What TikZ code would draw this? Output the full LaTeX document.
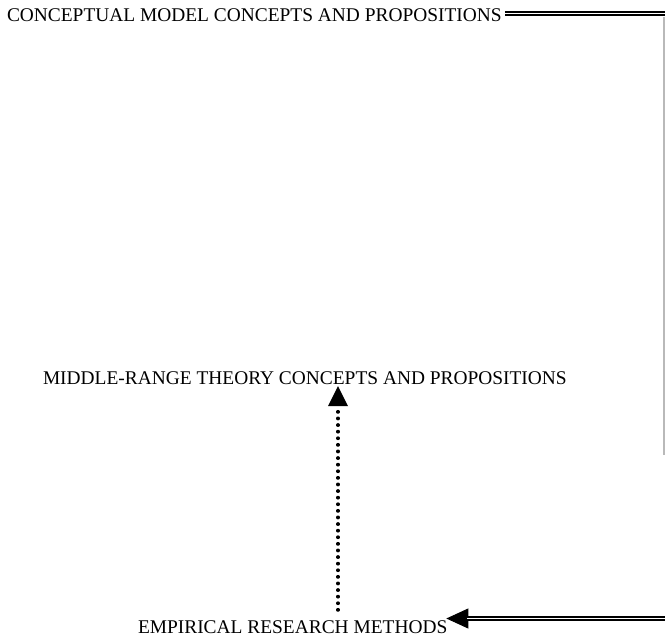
\documentclass[tikz,border=0pt]{standalone}
\usepackage{fontspec}
\setmainfont{Liberation Serif}
\usetikzlibrary{arrows.meta}
\begin{document}
\begin{tikzpicture}[x=1pt,y=1pt,
  label/.style={inner sep=0pt, outer sep=0pt, anchor=base west,
    font=\fontsize{19.4}{23}\selectfont},
  dblline/.style={draw=black, line width=1.3pt, double=white, double distance=1.6pt},
  dotline/.style={line width=3.2pt, line cap=round, dash pattern=on 0.6pt off 6pt},
  bigtip/.style={-{Triangle[length=22pt,width=20pt]}, line width=1pt}]
\useasboundingbox (0,0) rectangle (665,-639);

% the three levels of the hierarchy
\node[label] (cm)  at (7,-21.5)  {CONCEPTUAL MODEL CONCEPTS AND PROPOSITIONS};
\node[label] (mid) at (43,-385)  {MIDDLE-RANGE THEORY CONCEPTS AND PROPOSITIONS};
\node[label] (emp) at (138,-633) {EMPIRICAL RESEARCH METHODS};

% helper coordinates on the right margin and for the dotted link
\coordinate (ax) at (338,0);
\coordinate (tr) at (666,-13.5);
\coordinate (vr) at (664,-455);
\coordinate (br) at (666,-618.5);
\coordinate (et) at ([xshift=-1pt]emp.east |- br);
\coordinate (at) at ([yshift=-1pt]mid.south -| ax);

% double rule leaving the conceptual model to the right
\draw[dblline, shorten <=3pt] (cm.east |- tr) -- (tr);
% faint vertical rule down the right margin
\draw[gray!55, line width=1.2pt] (664,-17) -- (vr);
% double rule returning to the empirical methods with a solid head
\draw[bigtip] (br) -- (et);
\draw[dblline, shorten >=21pt] (br) -- (et);

% dotted link from the methods up to the middle-range theory
\draw[dotline, shorten <=10pt, shorten >=24pt] (emp.north -| ax) -- (at);
\fill (at) -- ++(-10,-20) -- ++(20,0) -- cycle;
\end{tikzpicture}
\end{document}
